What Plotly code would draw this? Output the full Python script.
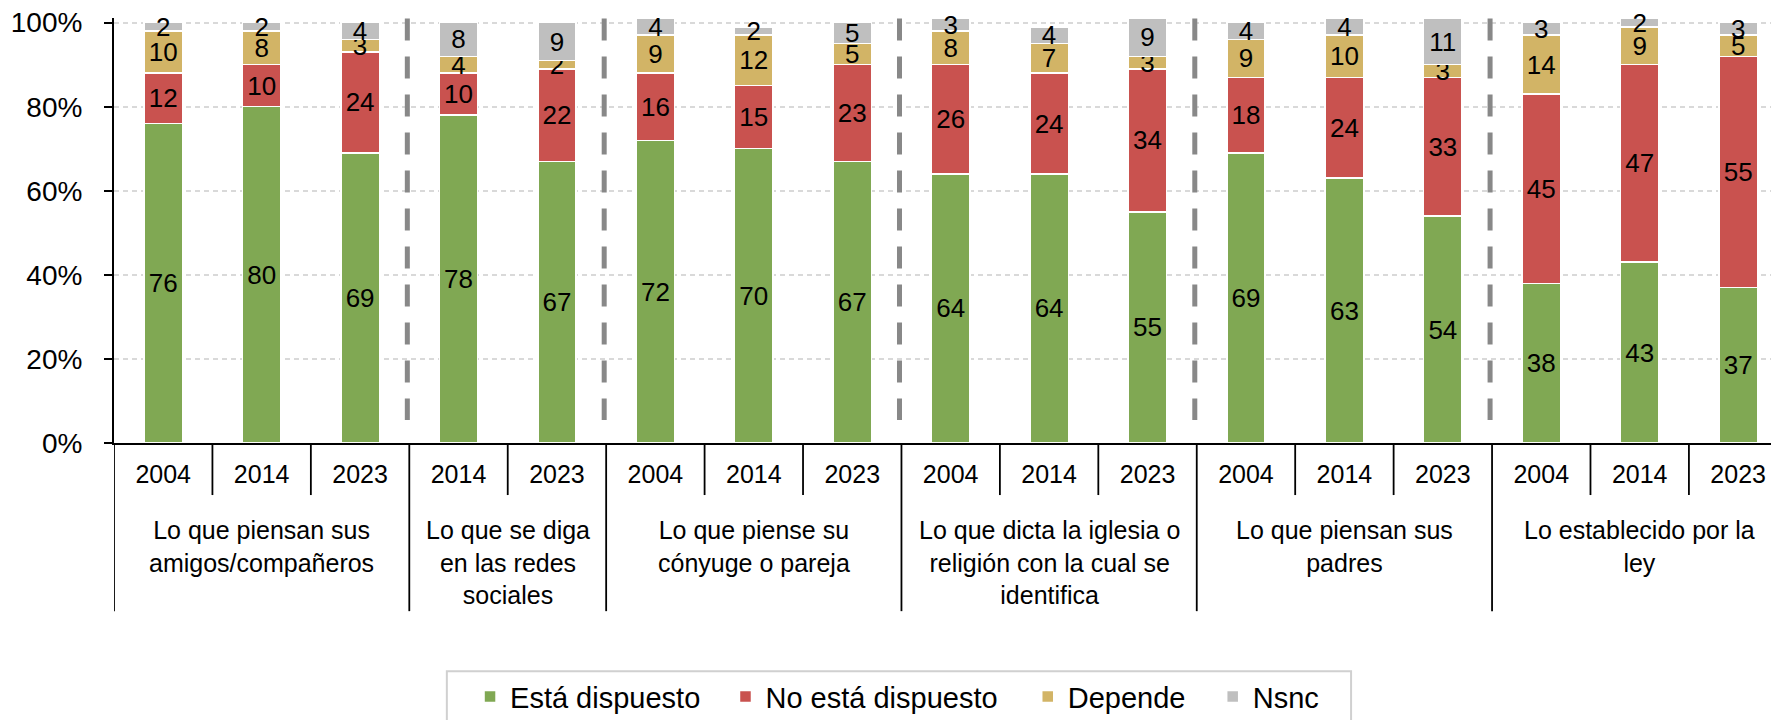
import plotly.graph_objects as go

# ---------------- data ----------------
group_labels = [
    "Lo que piensan sus<br>amigos/compañeros",
    "Lo que se diga<br>en las redes<br>sociales",
    "Lo que piense su<br>cónyuge o pareja",
    "Lo que dicta la iglesia o<br>religión con la cual se<br>identifica",
    "Lo que piensan sus<br>padres",
    "Lo establecido por la<br>ley",
]
years = ["2004", "2014", "2023", "2014", "2023", "2004", "2014", "2023",
         "2004", "2014", "2023", "2004", "2014", "2023", "2004", "2014", "2023"]
group_of_bar = [0, 0, 0, 1, 1, 2, 2, 2, 3, 3, 3, 4, 4, 4, 5, 5, 5]

dispuesto = [76, 80, 69, 78, 67, 72, 70, 67, 64, 64, 55, 69, 63, 54, 38, 43, 37]
no_dispuesto = [12, 10, 24, 10, 22, 16, 15, 23, 26, 24, 34, 18, 24, 33, 45, 47, 55]
depende = [10, 8, 3, 4, 2, 9, 12, 5, 8, 7, 3, 9, 10, 3, 14, 9, 5]
nsnc = [2, 2, 4, 8, 9, 4, 2, 5, 3, 4, 9, 4, 4, 11, 3, 2, 3]

series_names = ["Está dispuesto", "No está dispuesto", "Depende", "Nsnc"]
series_values = [dispuesto, no_dispuesto, depende, nsnc]
series_colors = ["#80A853", "#C9524F", "#D2B466", "#BFBFBF"]

y_ticks = [0, 20, 40, 60, 80, 100]

# ---------------- layout geometry (screen pixels) ----------------
FONT = "Liberation Sans, Arial, sans-serif"
PAGE_OFF = 8                      # default page margin of the html body
FIG_W, FIG_H = 1779 - PAGE_OFF, 720 - PAGE_OFF
PLOT_L, PLOT_B = 113.7, 443.0     # screen px of plot left edge / 0% line
Y_MAX = 101.1
PX_PER_PCT = 4.2
PLOT_H = PX_PER_PCT * Y_MAX
PLOT_W = 1779 - PLOT_L


def py(s):
    """screen y pixel -> paper y"""
    return (PLOT_B - s) / PLOT_H


def pxp(s):
    """screen x pixel -> paper x"""
    return (s - PLOT_L) / PLOT_W


xpos = list(range(len(years)))

fig = go.Figure()
legend_ids = ["legend", "legend2", "legend3", "legend4"]
legend_symbol_left = [486.8, 742.3, 1044.6, 1229.6]
for name, vals, col, lid in zip(series_names, series_values, series_colors, legend_ids):
    fig.add_trace(go.Bar(
        x=xpos, y=vals, name=name, legend=lid,
        marker=dict(color=col, line=dict(color="white", width=1.5)),
        width=0.39,
        text=[str(v) for v in vals],
        textposition="inside",
        insidetextanchor="middle",
        textangle=0,
        constraintext="none",
        textfont=dict(family=FONT, size=26, color="black"),
        cliponaxis=False,
        hoverinfo="skip",
    ))

# group boundaries
bounds = [i - 0.5 for i in range(1, len(years)) if group_of_bar[i] != group_of_bar[i - 1]]
inner = [i - 0.5 for i in range(1, len(years)) if group_of_bar[i] == group_of_bar[i - 1]]

shapes = []
for b in bounds:
    shapes.append(dict(type="line", xref="x", yref="paper", x0=b - 0.02, x1=b - 0.02,
                       y0=py(19), y1=py(420),
                       line=dict(color="#888888", width=5, dash="22px,16px")))
    shapes.append(dict(type="line", xref="x", yref="paper", x0=b, x1=b,
                       y0=0, y1=py(611), line=dict(color="black", width=1.8)))
shapes.append(dict(type="line", xref="x", yref="paper", x0=-0.5, x1=-0.5,
                   y0=0, y1=py(611), line=dict(color="black", width=1.8)))
for b in inner:
    shapes.append(dict(type="line", xref="x", yref="paper", x0=b, x1=b,
                       y0=0, y1=py(495), line=dict(color="black", width=1.8)))
# legend frame
shapes.append(dict(type="rect", xref="paper", yref="paper",
                   x0=pxp(446.6), x1=pxp(1351), y0=py(671), y1=py(740),
                   line=dict(color="#D0D0D0", width=2), fillcolor="rgba(0,0,0,0)"))

annotations = []
for g, lab in enumerate(group_labels):
    members = [i for i in xpos if group_of_bar[i] == g]
    cx = (members[0] + members[-1]) / 2
    annotations.append(dict(x=cx, y=py(513.5), xref="x", yref="paper",
                            text=lab, showarrow=False, xanchor="center", yanchor="top",
                            font=dict(family=FONT, size=25, color="black")))

legend_common = dict(orientation="h", xanchor="left", yanchor="top", y=py(671),
                     borderwidth=0, bgcolor="rgba(0,0,0,0)",
                     font=dict(family=FONT, size=29, color="black"))
legend_layout = {lid: dict(x=pxp(lx - 17), **legend_common)
                 for lid, lx in zip(legend_ids, legend_symbol_left)}

fig.update_layout(
    width=FIG_W, height=FIG_H,
    margin=dict(l=PLOT_L - PAGE_OFF, r=0, t=(PLOT_B - PLOT_H) - PAGE_OFF,
                b=FIG_H - (PLOT_B - PAGE_OFF), autoexpand=False),
    barmode="stack",
    plot_bgcolor="white", paper_bgcolor="white",
    font=dict(family=FONT, color="black"),
    shapes=shapes,
    annotations=annotations,
    showlegend=True,
    **legend_layout,
)
fig.update_xaxes(
    range=[-0.5, -0.5 + PLOT_W / 98.45],
    tickmode="array", tickvals=xpos, ticktext=years,
    ticks="", showgrid=False, zeroline=False,
    showline=True, linecolor="black", linewidth=2,
    tickfont=dict(family=FONT, size=25, color="black"),
    ticklabelstandoff=8, ticklabeloverflow="allow",
)
fig.update_yaxes(
    range=[0, Y_MAX],
    tickmode="array", tickvals=y_ticks, ticktext=[f"{v}%" for v in y_ticks],
    ticks="outside", ticklen=8, tickwidth=2, tickcolor="black",
    showline=True, linecolor="black", linewidth=2,
    showgrid=True, gridcolor="#D9D9D9", gridwidth=1.5, griddash="5px,4px",
    zeroline=False,
    tickfont=dict(family=FONT, size=28, color="black"),
    ticklabelstandoff=16, ticklabeloverflow="allow",
)

fig.write_html("out.html")
